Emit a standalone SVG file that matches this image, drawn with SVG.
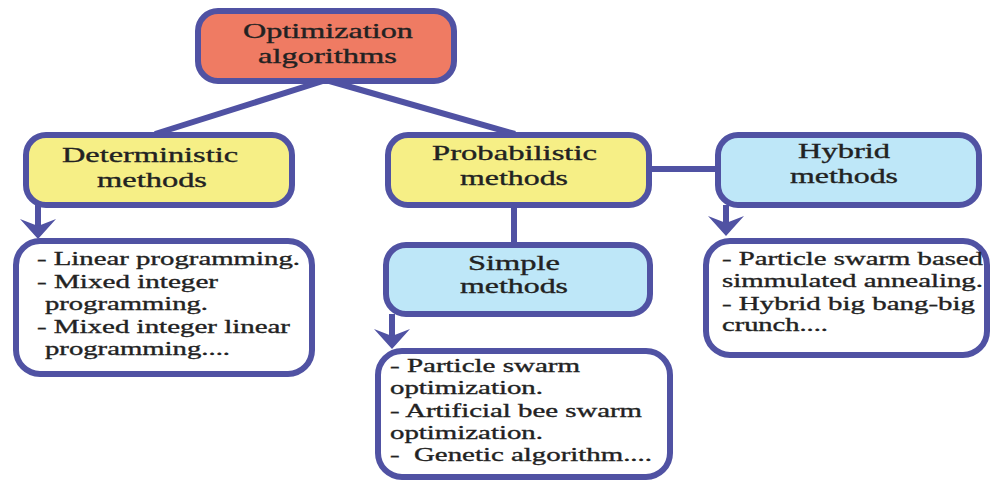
<svg xmlns="http://www.w3.org/2000/svg" width="994" height="483" viewBox="0 0 994 483">
<style>
.box{stroke:#5052A3;stroke-width:6}
.top{fill:#EF7B63}
.yel{fill:#F6EF86}
.blu{fill:#BEE7F8}
.lst{fill:#FFFFFF}
.con{stroke:#5052A3;stroke-width:6;fill:none}
.lbl{font-family:"Liberation Serif","Times New Roman",serif;font-size:21px;fill:#222222;stroke:#222222;stroke-width:0.35}
.li{font-family:"Liberation Serif","Times New Roman",serif;font-size:19px;fill:#222222;stroke:#222222;stroke-width:0.35}
</style>
<defs>
<path id="ah" d="M0,0 L-18,-20 L0,-13 L18,-20 Z" fill="#5052A3"/>
</defs>
<rect width="994" height="483" fill="#FFFFFF"/>
<g id="connectors">
<path class="con" d="M326,80 L155,134"/>
<path class="con" d="M326,80 L515,134"/>
<path class="con" d="M514,205 L514,246"/>
<path class="con" d="M649,169 L719,169"/>
<path class="con" d="M38,205 L38,228"/>
<use href="#ah" x="38" y="239"/>
<path class="con" d="M392,314 L392,338"/>
<use href="#ah" x="392" y="349"/>
<path class="con" d="M726,205 L726,225"/>
<use href="#ah" x="726" y="236"/>
</g>
<g id="optimization">
<rect class="box top" x="198" y="11" width="256" height="70" rx="20"/>
<text class="lbl" x="243" y="38" textLength="170" lengthAdjust="spacingAndGlyphs">Optimization</text>
<text class="lbl" x="258" y="63" textLength="139" lengthAdjust="spacingAndGlyphs">algorithms</text>
</g>
<g id="deterministic">
<rect class="box yel" x="26" y="135" width="266" height="70" rx="20"/>
<text class="lbl" x="62" y="162" textLength="176" lengthAdjust="spacingAndGlyphs">Deterministic</text>
<text class="lbl" x="97" y="187" textLength="110" lengthAdjust="spacingAndGlyphs">methods</text>
</g>
<g id="deterministic-list">
<rect class="box lst" x="16" y="241" width="296" height="133" rx="24"/>
<text class="li" x="37" y="265" textLength="263" lengthAdjust="spacingAndGlyphs">- Linear programming.</text>
<text class="li" x="37" y="288" textLength="181" lengthAdjust="spacingAndGlyphs">- Mixed integer</text>
<text class="li" x="45" y="310" textLength="163" lengthAdjust="spacingAndGlyphs">programming.</text>
<text class="li" x="37" y="333" textLength="253" lengthAdjust="spacingAndGlyphs">- Mixed integer linear</text>
<text class="li" x="45" y="355" textLength="185" lengthAdjust="spacingAndGlyphs">programming....</text>
</g>
<g id="probabilistic">
<rect class="box yel" x="388" y="135" width="261" height="70" rx="20"/>
<text class="lbl" x="432" y="160" textLength="165" lengthAdjust="spacingAndGlyphs">Probabilistic</text>
<text class="lbl" x="460" y="185" textLength="108" lengthAdjust="spacingAndGlyphs">methods</text>
</g>
<g id="simple">
<rect class="box blu" x="386" y="245" width="264" height="69" rx="20"/>
<text class="lbl" x="468" y="270" textLength="92" lengthAdjust="spacingAndGlyphs">Simple</text>
<text class="lbl" x="460" y="293" textLength="108" lengthAdjust="spacingAndGlyphs">methods</text>
</g>
<g id="simple-list">
<rect class="box lst" x="378" y="351" width="292" height="126" rx="24"/>
<text class="li" x="390" y="372" textLength="190" lengthAdjust="spacingAndGlyphs">- Particle swarm</text>
<text class="li" x="390" y="394" textLength="153" lengthAdjust="spacingAndGlyphs">optimization.</text>
<text class="li" x="390" y="417" textLength="252" lengthAdjust="spacingAndGlyphs">- Artificial bee swarm</text>
<text class="li" x="390" y="439" textLength="153" lengthAdjust="spacingAndGlyphs">optimization.</text>
<text class="li" x="390" y="461" textLength="262" lengthAdjust="spacingAndGlyphs" xml:space="preserve">-  Genetic algorithm....</text>
</g>
<g id="hybrid">
<rect class="box blu" x="718" y="135" width="261" height="70" rx="20"/>
<text class="lbl" x="798" y="158" textLength="92" lengthAdjust="spacingAndGlyphs">Hybrid</text>
<text class="lbl" x="790" y="183" textLength="108" lengthAdjust="spacingAndGlyphs">methods</text>
</g>
<g id="hybrid-list">
<rect class="box lst" x="706" y="241" width="281" height="114" rx="24"/>
<text class="li" x="722" y="265" textLength="261" lengthAdjust="spacingAndGlyphs">- Particle swarm based</text>
<text class="li" x="722" y="287" textLength="261" lengthAdjust="spacingAndGlyphs">simmulated annealing.</text>
<text class="li" x="722" y="310" textLength="253" lengthAdjust="spacingAndGlyphs">- Hybrid big bang-big</text>
<text class="li" x="722" y="331" textLength="106" lengthAdjust="spacingAndGlyphs">crunch....</text>
</g>
</svg>
